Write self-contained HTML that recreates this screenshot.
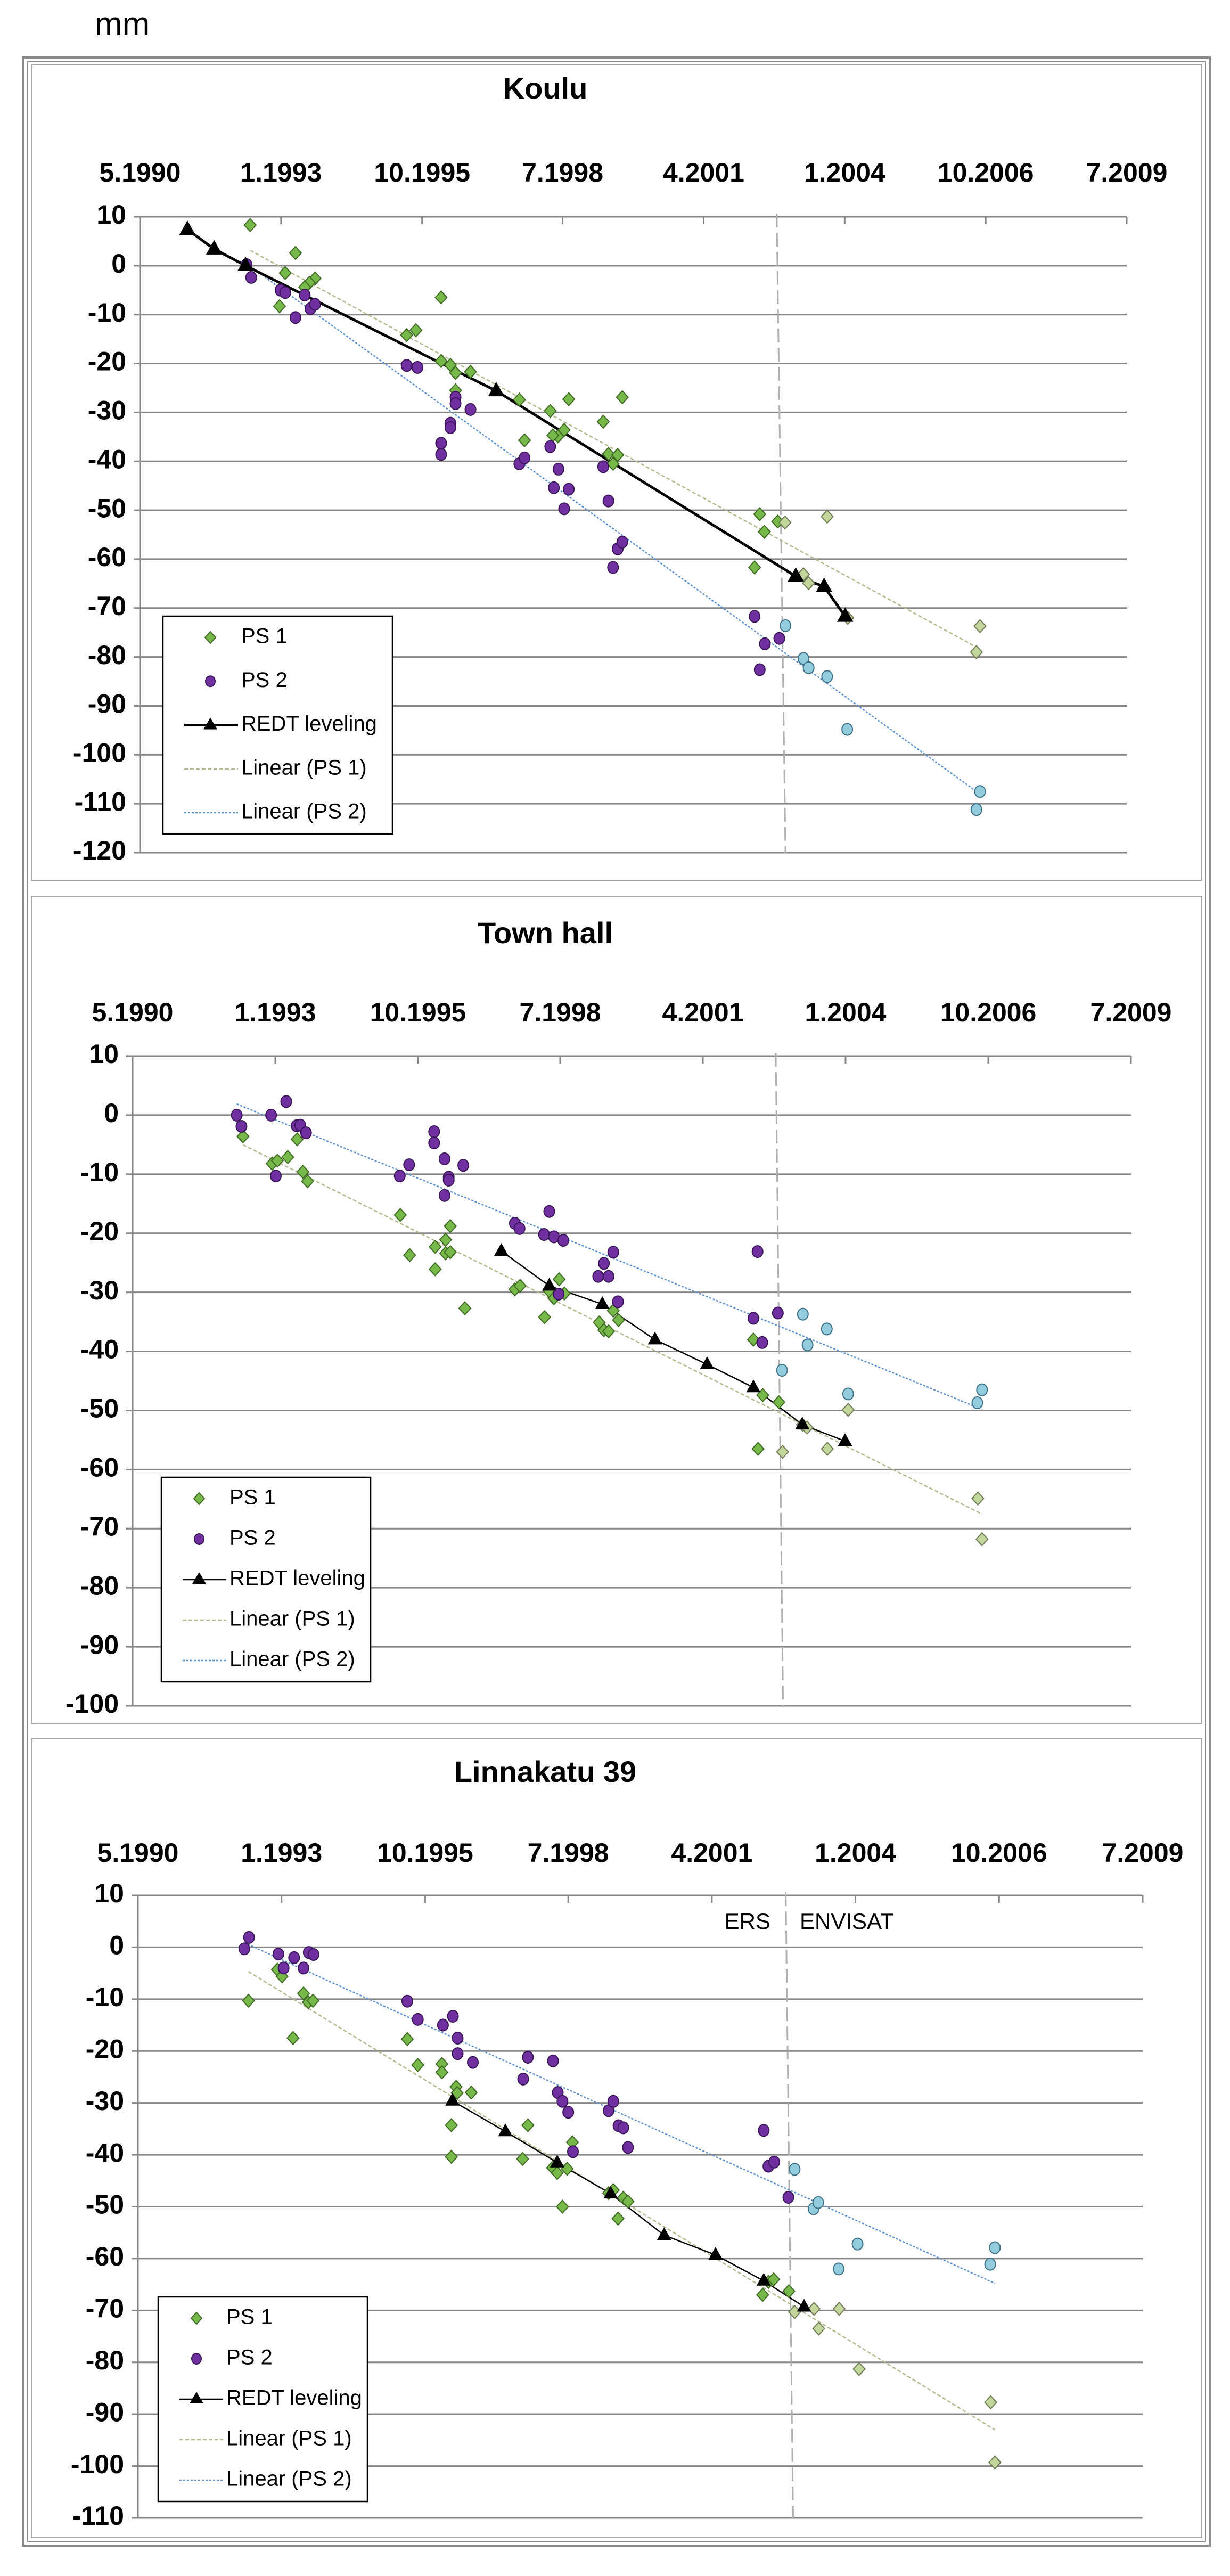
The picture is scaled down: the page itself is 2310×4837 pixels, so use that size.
<!DOCTYPE html>
<html><head><meta charset="utf-8"><style>
html,body{margin:0;padding:0;background:#fff;}
svg{display:block;}
text{font-family:"Liberation Sans Narrow","Liberation Sans",sans-serif;}
</style></head><body>
<svg id="chart" width="2310" height="4837" viewBox="0 0 2310 4837" xmlns="http://www.w3.org/2000/svg">
<text x="178" y="66" font-size="62" fill="#000" style="font-family:'Liberation Sans',sans-serif">mm</text>
<rect x="44" y="108" width="2228" height="4672" fill="none" stroke="#8a8a8a" stroke-width="4"/>
<rect x="52" y="116" width="2212" height="4656" fill="none" stroke="#8a8a8a" stroke-width="2"/>
</svg>
<script>
const tickLabels = ["5.1990","1.1993","10.1995","7.1998","4.2001","1.2004","10.2006","7.2009"];
const tickYears = [1990.33,1993.07,1995.81,1998.54,2001.28,2004.02,2006.76,2009.5];

const kouluPs1X = [1992.47,1993.35,1993.15,1993.04,1993.73,1993.62,1993.53,1996.18,1995.69,1995.51,1996.18,1996.36,1996.46,1996.75,1996.46,1997.70,1998.66,1999.70,1998.30,1999.33,1998.57,1998.45,1998.35,1997.80,1999.43,1999.61,1999.52,2002.37,2002.46,2002.72,2002.27,2002.86,2003.68,2003.22,2003.32,2004.08,2006.65,2006.58];
const kouluPs1Y = [8.3,2.6,-1.5,-8.3,-2.6,-3.5,-4.4,-6.5,-13.2,-14.2,-19.5,-20.3,-21.9,-21.7,-25.5,-27.4,-27.3,-26.9,-29.7,-31.9,-33.6,-34.9,-34.7,-35.7,-38.5,-38.7,-40.5,-50.8,-54.4,-52.3,-61.7,-52.5,-51.3,-63.1,-64.9,-72.0,-73.7,-79.0];
const kouluPs2X = [1992.40,1992.49,1993.06,1993.15,1993.35,1993.53,1993.64,1993.73,1995.51,1995.72,1996.46,1996.46,1996.36,1996.36,1996.75,1996.18,1996.18,1997.70,1997.80,1998.30,1998.46,1998.37,1998.66,1998.57,1999.33,1999.43,1999.52,1999.61,1999.70,2002.27,2002.47,2002.75,2002.37,2002.87,2003.22,2003.32,2003.68,2004.07,2006.65,2006.58];
const kouluPs2Y = [0.2,-2.4,-5.0,-5.5,-10.6,-6.0,-8.8,-7.9,-20.4,-20.8,-26.9,-28.2,-32.2,-33.1,-29.4,-36.3,-38.6,-40.5,-39.3,-37.0,-41.6,-45.4,-45.7,-49.7,-41.1,-48.1,-61.7,-57.9,-56.5,-71.7,-77.3,-76.2,-82.6,-73.6,-80.3,-82.2,-84.0,-94.8,-107.5,-111.2];
const kouluRedtX = [1991.25,1991.77,1992.38,1997.25,2003.07,2003.62,2004.03];
const kouluRedtY = [7.4,3.4,0,-25.6,-63.5,-65.6,-71.7];

const townPs1X = [1992.45,1993.01,1993.11,1993.31,1993.49,1993.60,1993.69,1995.47,1995.65,1996.14,1996.14,1996.34,1996.34,1996.43,1996.43,1996.71,1997.67,1997.77,1998.24,1998.33,1998.42,1998.52,1998.62,1999.29,1999.38,1999.47,1999.56,1999.66,2002.25,2002.34,2002.43,2002.74,2002.81,2003.19,2003.28,2003.67,2004.07,2006.56,2006.64];
const townPs1Y = [-3.6,-8.2,-7.7,-7.1,-4.1,-9.6,-11.2,-16.9,-23.7,-22.3,-26.1,-21.1,-23.4,-23.2,-18.8,-32.7,-29.5,-28.9,-34.2,-29.8,-31.0,-27.8,-30.2,-35.1,-36.4,-36.6,-33.1,-34.7,-38.0,-56.5,-47.4,-48.6,-57.0,-52.4,-52.9,-56.5,-49.9,-64.9,-71.8];
const townPs2X = [1992.33,1992.42,1992.99,1993.08,1993.28,1993.48,1993.55,1993.66,1995.46,1995.64,1996.12,1996.12,1996.32,1996.40,1996.40,1996.32,1996.68,1997.67,1997.76,1998.23,1998.33,1998.42,1998.60,1998.51,1999.27,1999.47,1999.38,1999.56,1999.65,2002.33,2002.25,2002.42,2002.72,2002.80,2003.20,2003.29,2003.66,2004.07,2006.55,2006.64];
const townPs2Y = [0,-1.9,0,-10.3,2.3,-1.8,-1.7,-3.0,-10.3,-8.4,-2.8,-4.7,-7.4,-10.5,-11.0,-13.6,-8.5,-18.3,-19.2,-20.2,-16.3,-20.6,-21.2,-30.3,-27.3,-27.3,-25.1,-23.2,-31.6,-23.1,-34.4,-38.5,-33.5,-43.2,-33.7,-38.9,-36.2,-47.2,-48.7,-46.5];
const townRedtX = [1997.41,1998.33,1999.35,2000.36,2001.36,2002.25,2003.19,2004.01];
const townRedtY = [-23.0,-28.9,-32.0,-38.0,-42.2,-46.1,-52.4,-55.2];

const linnaPs1X = [1992.44,1992.99,1993.08,1993.29,1993.49,1993.58,1993.67,1995.47,1995.67,1996.13,1996.13,1996.40,1996.42,1996.31,1996.31,1996.69,1997.67,1997.77,1998.24,1998.33,1998.43,1998.52,1998.62,1999.31,1999.40,1999.49,1999.59,1999.68,2002.25,2002.36,2002.46,2002.75,2002.86,2003.23,2003.32,2003.71,2004.09,2006.60,2006.68];
const linnaPs1Y = [-10.3,-4.3,-5.6,-17.5,-8.9,-10.6,-10.3,-17.7,-22.7,-22.5,-24.1,-26.9,-28.1,-34.3,-40.4,-28.0,-40.8,-34.3,-42.5,-43.5,-50.0,-42.7,-37.6,-47.4,-46.8,-52.3,-48.3,-49.0,-67.0,-64.5,-64.0,-66.3,-70.3,-69.7,-73.5,-69.7,-81.3,-87.7,-99.3];
const linnaPs2X = [1992.36,1992.45,1993.01,1993.11,1993.31,1993.49,1993.59,1993.68,1995.47,1995.67,1996.15,1996.34,1996.43,1996.43,1996.72,1997.68,1997.77,1998.25,1998.34,1998.43,1998.54,1998.63,1999.31,1999.40,1999.50,1999.59,1999.68,2002.27,2002.36,2002.47,2002.74,2002.86,2003.22,2003.31,2003.70,2004.06,2006.59,2006.68];
const linnaPs2Y = [-0.3,1.9,-1.3,-4.0,-2.0,-4.0,-1.0,-1.4,-10.4,-13.9,-15.0,-13.3,-17.5,-20.5,-22.2,-25.4,-21.2,-21.9,-28.0,-29.7,-31.8,-39.4,-31.5,-29.7,-34.4,-34.8,-38.6,-35.3,-42.2,-41.4,-48.2,-42.8,-50.4,-49.2,-62.0,-57.2,-61.1,-57.9];
const linnaRedtX = [1996.33,1997.34,1998.33,1999.35,2000.37,2001.35,2002.27,2003.04];
const linnaRedtY = [-29.6,-35.5,-41.5,-47.5,-55.5,-59.3,-64.3,-69.3];

const NS = "http://www.w3.org/2000/svg";
const svg = document.getElementById("chart");
function mk(tag, attrs, parent) {
  const e = document.createElementNS(NS, tag);
  for (const k in attrs) e.setAttribute(k, attrs[k]);
  (parent || svg).appendChild(e);
  return e;
}
function regression(xs, ys) {
  const n = xs.length; let sx=0, sy=0, sxx=0, sxy=0;
  for (let i=0;i<n;i++){sx+=xs[i];sy+=ys[i];sxx+=xs[i]*xs[i];sxy+=xs[i]*ys[i];}
  const b=(n*sxy-sx*sy)/(n*sxx-sx*sx); const a=(sy-b*sx)/n; return [a,b];
}
const ENV_SPLIT = 2002.78;

function drawPanel(p) {
  const g = mk("g", {});
  
  
  const box = mk("rect", {x:59, y:p.boxTop, width:2198, height:p.boxBot-p.boxTop, fill:"none", stroke:"#a6a6a6", "stroke-width":2}, g);
  
  
  const sx = v => p.L + (v - 1990.33) / (2009.5 - 1990.33) * (p.R - p.L);
  const sy = v => p.yTopPx + (p.yMax - v) / (p.yMax - p.yMin) * (p.yBotPx - p.yTopPx);
  const t = mk("text", {x:1024, y:p.titleY, "font-size":56, "font-weight":"bold", "text-anchor":"middle", "dominant-baseline":"middle"}, g);
  t.textContent = p.title;
  
  
  for (let v = p.yMax; v >= p.yMin; v -= 10) {
    const y = sy(v);
    const ln = mk("line", {x1:p.L-12, x2:p.R, y1:y, y2:y, stroke:"#868686", "stroke-width":3}, g);
    
    
    const lb = mk("text", {x:p.L-26, y:y, "font-size":50, "font-weight":"bold", "text-anchor":"end", "dominant-baseline":"middle"}, g);
    lb.textContent = String(v);
    
    
  }
  const ax = mk("line", {x1:p.L, x2:p.L, y1:sy(p.yMax), y2:sy(p.yMin), stroke:"#868686", "stroke-width":3}, g);
  
  
  for (let i=0;i<tickYears.length;i++) {
    const x = sx(tickYears[i]);
    const tk = mk("line", {x1:x, x2:x, y1:sy(p.yMax), y2:sy(p.yMax)+14, stroke:"#868686", "stroke-width":3}, g);
    
    
    const lb = mk("text", {x:x, y:p.xLabelY, "font-size":50, "font-weight":"bold", "text-anchor":"middle", "dominant-baseline":"middle"}, g);
    lb.textContent = tickLabels[i];
    
    
  }
  const dl = mk("line", {x1:sx(p.dashTop), x2:sx(p.dashBot), y1:sy(p.yMax)-6, y2:sy(p.yMin), stroke:"#b0b0b0", "stroke-width":3, "stroke-dasharray":"26 10"}, g);
  
  
  if (p.sensorLabels) {
    const e1 = mk("text", {x:1447, y:sy(p.yMax)+52, "font-size":42, "text-anchor":"end", "dominant-baseline":"middle"}, g);
    e1.textContent = "ERS";
    
    
    const e2 = mk("text", {x:1502, y:sy(p.yMax)+52, "font-size":42, "dominant-baseline":"middle"}, g);
    e2.textContent = "ENVISAT";
    
    
  }
  function trend(xs, ys, color, dash, nm) {
    const [a,b] = regression(xs, ys);
    const x0 = Math.min(...xs), x1 = Math.max(...xs);
    const l = mk("line", {x1:sx(x0), y1:sy(a+b*x0), x2:sx(x1), y2:sy(a+b*x1), stroke:color, "stroke-width":2.5, "stroke-dasharray":dash}, g);
    
    
  }
  trend(p.ps1x, p.ps1y, "#b3b98c", "7 4", "trendline-ps1");
  trend(p.ps2x, p.ps2y, "#5a8fd0", "4 3", "trendline-ps2");
  let d = "";
  for (let i=0;i<p.rx.length;i++) d += (i?"L":"M") + sx(p.rx[i]) + " " + sy(p.ry[i]);
  const rl = mk("path", {d:d, fill:"none", stroke:"#000", "stroke-width":p.redtW}, g);
  
  
  for (let i=0;i<p.ps1x.length;i++) {
    const x = sx(p.ps1x[i]), y = sy(p.ps1y[i]); const env = p.ps1x[i] > ENV_SPLIT;
    const m = mk("path", {d:`M${x} ${y-12}L${x+11} ${y}L${x} ${y+12}L${x-11} ${y}Z`, fill:env?"#c3d69b":"#77b84a", stroke:env?"#6e7b55":"#3f6a23", "stroke-width":2}, g);
    
    
  }
  for (let i=0;i<p.ps2x.length;i++) {
    const x = sx(p.ps2x[i]), y = sy(p.ps2y[i]); const env = p.ps2x[i] > ENV_SPLIT;
    const m = mk("ellipse", {cx:x, cy:y, rx:10, ry:11, fill:env?"#93cddd":"#7030a0", stroke:env?"#3d6f86":"#3a1458", "stroke-width":2}, g);
    
    
  }
  for (let i=0;i<p.rx.length;i++) {
    const x = sx(p.rx[i]), y = sy(p.ry[i]); const s = p.triS;
    const m = mk("path", {d:`M${x} ${y-s}L${x+s*0.9} ${y+s*0.6}L${x-s*0.9} ${y+s*0.6}Z`, fill:"#000"}, g);
    
    
  }
  const lg = mk("g", {}, g);
  
  
  const lb = mk("rect", {x:p.legL, y:p.legT, width:p.legW, height:p.legH, fill:"#fff", stroke:"#000", "stroke-width":2.5}, lg);
  
  
  const names = ["PS 1","PS 2","REDT leveling","Linear (PS 1)","Linear (PS 2)"];
  const step = (p.legH - 80) / 4;
  for (let i=0;i<5;i++) {
    const y = p.legT + 40 + i*step; const mx = p.legL + p.mOff;
    if (i===0) { const m = mk("path", {d:`M${mx} ${y-11}L${mx+10} ${y}L${mx} ${y+11}L${mx-10} ${y}Z`, fill:"#77b84a", stroke:"#3f6a23", "stroke-width":2}, lg);   }
    if (i===1) { const m = mk("ellipse", {cx:mx, cy:y, rx:9, ry:10, fill:"#7030a0", stroke:"#3a1458", "stroke-width":2}, lg);   }
    if (i===2) { mk("line", {x1:p.legL+40, x2:p.legL+p.tOff-6, y1:y, y2:y, stroke:"#000", "stroke-width":p.redtW}, lg); mk("path", {d:`M${mx} ${y-14}L${mx+13} ${y+8}L${mx-13} ${y+8}Z`, fill:"#000"}, lg); }
    if (i===3) mk("line", {x1:p.legL+40, x2:p.legL+p.tOff-6, y1:y, y2:y, stroke:"#b3b98c", "stroke-width":2.5, "stroke-dasharray":"7 4"}, lg);
    if (i===4) mk("line", {x1:p.legL+40, x2:p.legL+p.tOff-6, y1:y, y2:y, stroke:"#5a8fd0", "stroke-width":2.5, "stroke-dasharray":"4 3"}, lg);
    const tx = mk("text", {x:p.legL+p.tOff, y:y, "font-size":40, "dominant-baseline":"middle"}, lg);
    tx.textContent = names[i];
    
    
  }
}

drawPanel({name:"koulu", title:"Koulu", boxTop:121, boxBot:1653, L:263, R:2116, yTopPx:407, yBotPx:1601, yMax:10, yMin:-120, titleY:170, xLabelY:328, dashTop:2002.70, dashBot:2002.87, ps1x:kouluPs1X, ps1y:kouluPs1Y, ps2x:kouluPs2X, ps2y:kouluPs2Y, rx:kouluRedtX, ry:kouluRedtY, redtW:5, triS:17, legL:306, legT:1157, legW:431, legH:409, mOff:89, tOff:147, sensorLabels:false});
drawPanel({name:"town-hall", title:"Town hall", boxTop:1683, boxBot:3236, L:249, R:2124, yTopPx:1983, yBotPx:3203, yMax:10, yMin:-100, titleY:1756, xLabelY:1905, dashTop:2002.68, dashBot:2002.82, ps1x:townPs1X, ps1y:townPs1Y, ps2x:townPs2X, ps2y:townPs2Y, rx:townRedtX, ry:townRedtY, redtW:2.5, triS:15, legL:303, legT:2774, legW:393, legH:384, mOff:71, tOff:128, sensorLabels:false});
drawPanel({name:"linnakatu-39", title:"Linnakatu 39", boxTop:3265, boxBot:4765, L:259, R:2146, yTopPx:3559, yBotPx:4728, yMax:10, yMin:-110, titleY:3331, xLabelY:3483, dashTop:2002.69, dashBot:2002.83, ps1x:linnaPs1X, ps1y:linnaPs1Y, ps2x:linnaPs2X, ps2y:linnaPs2Y, rx:linnaRedtX, ry:linnaRedtY, redtW:2.5, triS:15, legL:297, legT:4313, legW:393, legH:384, mOff:72, tOff:128, sensorLabels:true});
</script>
</body></html>
